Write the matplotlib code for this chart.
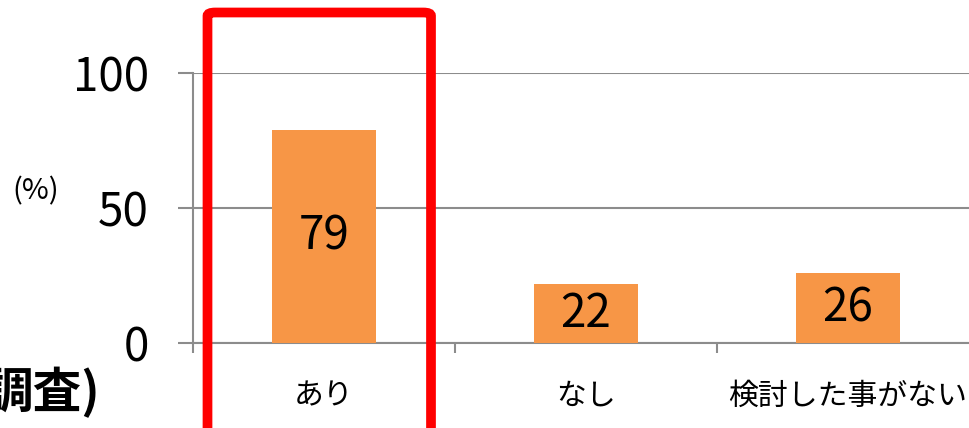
import matplotlib
matplotlib.use("Agg")
import matplotlib.pyplot as plt
from matplotlib.patches import FancyBboxPatch

plt.rcParams['font.family'] = ['Noto Sans CJK JP', 'DejaVu Sans']

categories = ["あり", "なし", "検討した事がない"]
values = [79, 22, 26]
yticks = [0, 50, 100]

W, H = 970, 428
fig = plt.figure(figsize=(W / 100, H / 100), dpi=100)
fig.patch.set_facecolor("white")

left_px, right_px, bottom_px, top_px = 193, 979, 343, 73
ax = fig.add_axes([left_px / W, (H - bottom_px) / H,
                   (right_px - left_px) / W, (bottom_px - top_px) / H])
ax.set_facecolor("white")

xs = list(range(len(categories)))
bars = ax.bar(xs, values, width=0.4, color="#F79646", zorder=3)
for x, v in zip(xs, values):
    ax.text(x, v / 2, str(v), ha="center", va="center", fontsize=33,
            color="black", zorder=4)

ax.set_xlim(-0.5, len(categories) - 0.5)
ax.set_ylim(0, 100)

grid_color = "#8C8C8C"
ax.set_yticks(yticks)
ax.set_yticklabels([str(t) for t in yticks], fontsize=33)
ax.yaxis.grid(True, color=grid_color, linewidth=1.5, zorder=0)
ax.tick_params(axis="y", direction="out", length=10.8, width=1.5,
               color=grid_color, pad=21, labelcolor="black")

ax.set_xticks([i - 0.5 for i in xs])
ax.set_xticklabels([])
ax.set_xticks(xs, minor=True)
ax.set_xticklabels(categories, minor=True, fontsize=21.5)
ax.tick_params(axis="x", which="major", direction="out", length=7.2,
               width=1.5, color=grid_color)
ax.tick_params(axis="x", which="minor", length=0, pad=27, labelcolor="black")

for s in ["top", "right"]:
    ax.spines[s].set_visible(False)
for s in ["left", "bottom"]:
    ax.spines[s].set_color(grid_color)
    ax.spines[s].set_linewidth(1.5)
ax.set_axisbelow(True)

fig.text(36 / W, (H - 191) / H, "(%)", ha="center", va="center", fontsize=21)

fig.text(100 / W, (H - 392) / H, "調査)", ha="right", va="center",
         fontsize=35, fontweight="bold", color="black")

# red highlight frame
x0, x1 = 207.5, 431
y_top = 12.5
rect = FancyBboxPatch((x0 / W, -20 / H), (x1 - x0) / W, (H - y_top + 20) / H,
                      boxstyle="round,pad=0,rounding_size=0.008",
                      transform=fig.transFigure, fill=False,
                      edgecolor="#FF0000", linewidth=7, zorder=10)
fig.patches.append(rect)

fig.savefig("out.png", dpi=100, facecolor="white")
